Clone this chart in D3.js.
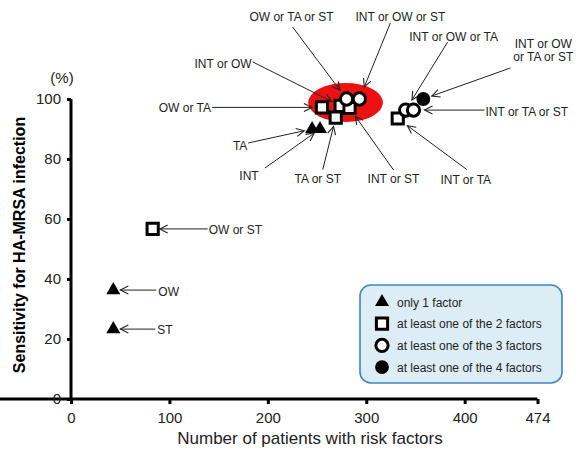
<!DOCTYPE html>
<html>
<head>
<meta charset="utf-8">
<script src="https://cdn.jsdelivr.net/npm/d3@7"></script>
<style>
  body { margin: 0; background: #fff; }
  svg { font-family: "Liberation Sans", Arial, sans-serif; }
  .axis path, .axis line { stroke: #000; stroke-width: 3; }
  .axis text { font-size: 15px; fill: #222; font-family: "Liberation Sans", Arial, sans-serif; }
</style>
</head>
<body>
<svg width="576" height="458"></svg>
<script>
// risk factor combinations, in drawing order
var riskSets = ["OW", "ST", "TA", "INT", "OW or ST",
    "INT or OW", "INT or ST", "OW or TA or ST", "INT or OW or ST",
    "OW or TA", "TA or ST",
    "INT or TA", "INT or OW or TA", "INT or TA or ST", "INT or OW or TA or ST"];
var patients = [43, 43, 245, 253, 83, 274, 283, 280, 293, 255, 269, 332, 340, 348, 358];
var sensitivity = [36.3, 23.3, 90, 90, 56.7, 97.7, 97, 100, 100, 97.2, 93.8, 93.5, 96.3, 96.3, 100];
var nFactors = [1, 1, 1, 1, 2, 2, 2, 3, 3, 2, 2, 2, 3, 3, 4];

var xTicks = [0, 100, 200, 300, 400, 474];
var yTicks = [0, 20, 40, 60, 80, 100];
var legendLabels = ["only 1 factor", "at least one of the 2 factors",
    "at least one of the 3 factors", "at least one of the 4 factors"];

// callout layout: label offset (tx,ty), arrow start offset (ax,ay), gap before marker
var callouts = {
    "OW":        {tx: 45, ty: 6, anchor: "start", ax: 43, ay: 0, gap: 7},
    "ST":        {tx: 44, ty: 5, anchor: "start", ax: 42, ay: 0, gap: 7},
    "OW or ST":  {tx: 56, ty: 5, anchor: "start", ax: 55, ay: 0, gap: 7},
    "TA":        {tx: -72, ty: 21, anchor: "middle", ax: -64, ay: 14, gap: 8},
    "INT":       {tx: -71, ty: 51, anchor: "middle", ax: -55, ay: 39, gap: 7},
    "OW or TA":  {tx: -111, ty: 5, anchor: "end", ax: -110, ay: 0, gap: 10},
    "TA or ST":  {tx: -18, ty: 65, anchor: "middle", ax: -13, ay: 52, gap: 9},
    "INT or OW": {tx: -89, ty: -38, anchor: "end", ax: -88, ay: -44, gap: 10},
    "INT or ST": {tx: 44, ty: 75, anchor: "middle", ax: 44, ay: 62, gap: 10},
    "OW or TA or ST":  {tx: -55, ty: -78, anchor: "middle", ax: -54, ay: -72, gap: 11},
    "INT or OW or ST": {tx: 41, ty: -78, anchor: "middle", ax: 31, ay: -76, gap: 13},
    "INT or TA":       {tx: 68, ty: 65, anchor: "middle", ax: 69, ay: 51, gap: 12},
    "INT or OW or TA": {tx: 48, ty: -69, anchor: "middle", ax: 42, ay: -68, gap: 12},
    "INT or TA or ST": {tx: 72, ty: 6, anchor: "start", ax: 71, ay: 0, gap: 11},
    "INT or OW or TA or ST": {tx: 120, ty: -38, anchor: "middle", ax: 87, ay: -31, gap: 9,
        lines: ["INT or OW", "or TA or ST"]}
};

var svg = d3.select('svg');

var xScale = d3.scaleLinear().domain([0, 474]).range([71, 537.5]);
var yScale = d3.scaleLinear().domain([0, 100]).range([399, 99]);

var data = riskSets.map(function(name, i) {
    return {name: name, n: patients[i], sens: sensitivity[i], k: nFactors[i]};
});

// red highlight ellipse around the 2/3-factor cluster
svg.append('ellipse')
    .attr('cx', xScale(279))
    .attr('cy', yScale(98.8))
    .attr('rx', xScale(38) - xScale(0))
    .attr('ry', yScale(0) - yScale(6.5))
    .attr('fill', '#ee1111');

// axes
var xAxisG = svg.append('g')
    .attr('class', 'x axis')
    .attr('transform', 'translate(0,' + yScale(0) + ')')
    .call(d3.axisBottom(xScale).tickValues(xTicks).tickSize(5).tickSizeOuter(0).tickPadding(8));
var yAxisG = svg.append('g')
    .attr('class', 'y axis')
    .attr('transform', 'translate(' + xScale(0) + ',0)')
    .call(d3.axisLeft(yScale).tickValues(yTicks).tickSize(4).tickSizeOuter(0).tickPadding(6));
yAxisG.select('.domain').attr('d', 'M0,' + (yScale(0) + 1.5) + 'V' + yScale(100));
xAxisG.select('.domain').attr('d', 'M-1.5,0H' + xScale(474));

svg.append('text')
    .attr('x', 310).attr('y', 444)
    .attr('text-anchor', 'middle')
    .style('font-size', '17px').style('fill', '#222')
    .text('Number of patients with risk factors');

svg.append('text')
    .attr('transform', 'translate(25,' + 245 + ') rotate(-90)')
    .attr('text-anchor', 'middle')
    .style('font-size', '16px').style('font-weight', 'bold').style('fill', '#000')
    .text('Sensitivity for HA-MRSA infection');

svg.append('text')
    .attr('x', 62).attr('y', 83)
    .attr('text-anchor', 'middle')
    .style('font-size', '15px').style('fill', '#222')
    .text('(%)');

// open arrowhead
svg.append('defs').append('marker')
    .attr('id', 'arrow')
    .attr('viewBox', '-10 -6 12 12')
    .attr('refX', 0).attr('refY', 0)
    .attr('markerWidth', 12).attr('markerHeight', 12)
    .attr('markerUnits', 'userSpaceOnUse')
    .attr('orient', 'auto')
    .append('path')
    .attr('d', 'M-8,-4L0,0L-8,4')
    .attr('fill', 'none')
    .attr('stroke', '#222')
    .attr('stroke-width', 1.1);

// callout arrows and labels
var calloutG = svg.append('g');
data.forEach(function(d) {
    var c = callouts[d.name];
    var px = xScale(d.n), py = yScale(d.sens);
    var sx = px + c.ax, sy = py + c.ay;
    var len = Math.sqrt(c.ax * c.ax + c.ay * c.ay);
    var ex = px + c.ax / len * c.gap, ey = py + c.ay / len * c.gap;
    calloutG.append('line')
        .attr('x1', sx).attr('y1', sy)
        .attr('x2', ex).attr('y2', ey)
        .attr('stroke', '#222')
        .attr('stroke-width', 1)
        .attr('marker-end', 'url(#arrow)');
    var t = calloutG.append('text')
        .attr('x', px + c.tx).attr('y', py + c.ty)
        .attr('text-anchor', c.anchor)
        .style('font-size', '12px').style('fill', '#222');
    if (c.lines) {
        c.lines.forEach(function(line, j) {
            t.append('tspan').attr('x', px + c.tx).attr('dy', j === 0 ? -13 : 13).text(line);
        });
    } else {
        t.text(d.name);
    }
});

// markers
function symbolFor(k) {
    if (k === 1) return d3.symbol().type(d3.symbolTriangle).size(85)();
    if (k === 2) return d3.symbol().type(d3.symbolSquare).size(125)();
    if (k === 3) return d3.symbol().type(d3.symbolCircle).size(118)();
    return d3.symbol().type(d3.symbolCircle).size(150)();
}
function styleMarker(sel) {
    sel.attr('d', function(d) { return symbolFor(d.k); })
        .attr('fill', function(d) { return (d.k === 1 || d.k === 4) ? '#000' : '#fff'; })
        .attr('stroke', '#000')
        .attr('stroke-width', function(d) { return (d.k === 2 || d.k === 3) ? 3 : 0; });
}

svg.selectAll('.dot').data(data).enter()
    .append('path')
    .attr('class', 'dot')
    .attr('transform', function(d) {
        return 'translate(' + [xScale(d.n), yScale(d.sens)] + ')';
    })
    .call(styleMarker);

// legend
var legendG = svg.append('g').attr('transform', 'translate(360,285)');
legendG.append('rect')
    .attr('width', 202).attr('height', 98)
    .attr('rx', 11).attr('ry', 11)
    .attr('fill', '#dcedf5')
    .attr('stroke', '#3b86c6')
    .attr('stroke-width', 1.6);
var legendItems = legendG.selectAll('.legend-item')
    .data(legendLabels.map(function(l, i) { return {label: l, k: i + 1}; }))
    .enter().append('g')
    .attr('class', 'legend-item')
    .attr('transform', function(d, i) { return 'translate(22,' + (17 + i * 21.7) + ')'; });
legendItems.append('path').call(styleMarker);
legendItems.append('text')
    .attr('x', 15).attr('y', 4.5)
    .style('font-size', '12px').style('fill', '#222')
    .text(function(d) { return d.label; });
</script>
</body>
</html>
